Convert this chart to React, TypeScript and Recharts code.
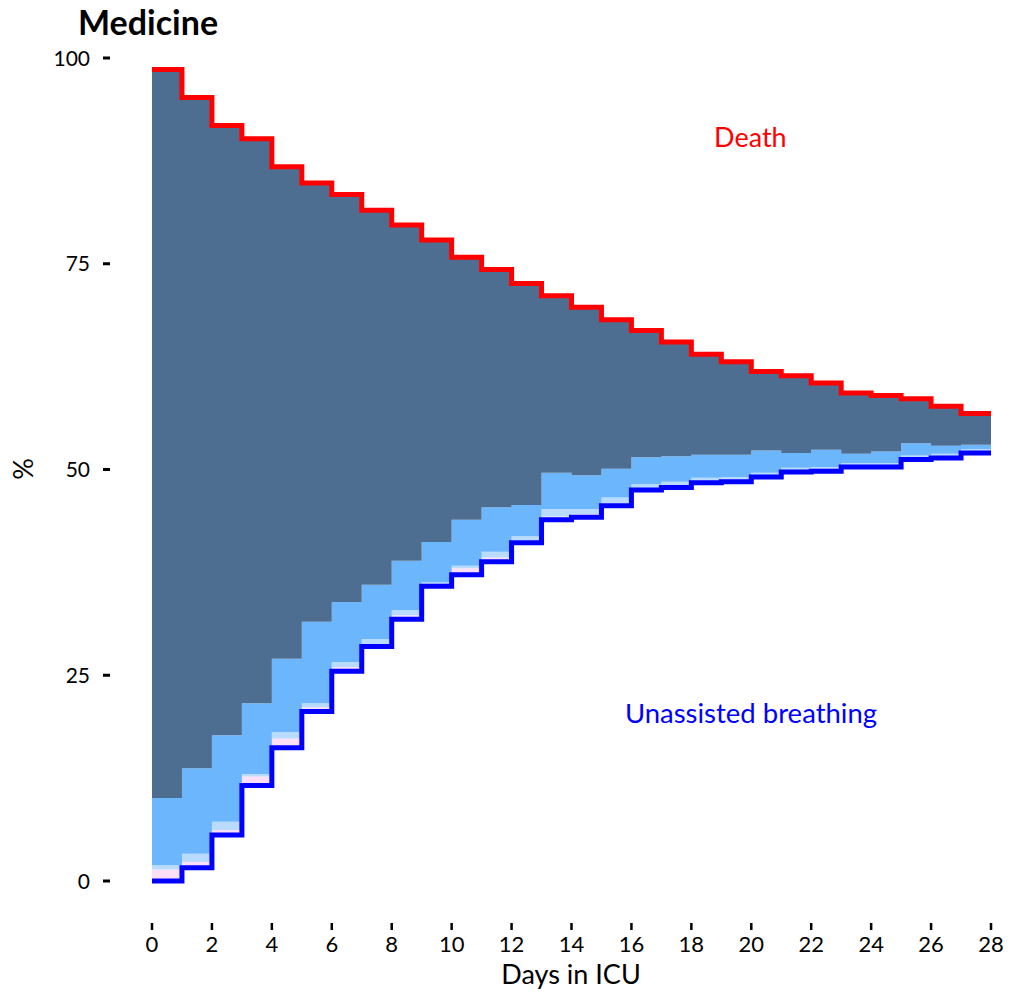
import React from 'react';
import { ComposedChart, Area, Line, XAxis, YAxis, ReferenceDot } from 'recharts';

// day intervals 0..27 (value holds from day i to day i+1)
const days = [0, 1, 2, 3, 4, 5, 6, 7, 8, 9, 10, 11, 12, 13, 14, 15, 16, 17, 18, 19, 20, 21, 22, 23, 24, 25, 26, 27];
const unassisted = [0, 1.6, 5.6, 11.6, 16.2, 20.6, 25.5, 28.5, 31.8, 35.8, 37.2, 38.8, 41.1, 43.9, 44.2, 45.6, 47.5, 47.8, 48.4, 48.5, 49.1, 49.7, 49.8, 50.3, 50.3, 51.2, 51.4, 52.0];
const pinkTop = [1.4, 2.3, 6.2, 12.7, 17.3, 21.1, 26.0, 28.8, 32.3, 36.1, 38.0, 39.3, 41.4, 44.3, 44.6, 45.9, 47.7, 48.0, 48.6, 48.7, 49.3, 49.9, 50.0, 50.5, 50.5, 51.4, 51.6, 52.2];
const paleTop = [1.9, 3.3, 7.2, 13.0, 18.1, 21.6, 26.6, 29.4, 32.9, 36.3, 38.3, 40.0, 41.9, 45.2, 45.2, 46.6, 48.2, 48.5, 49.0, 49.1, 49.6, 50.2, 50.3, 50.8, 50.8, 51.7, 51.9, 52.5];
const lightTop = [10.1, 13.7, 17.7, 21.6, 27.0, 31.5, 33.9, 36.0, 38.9, 41.2, 43.9, 45.4, 45.7, 49.6, 49.3, 50.1, 51.5, 51.6, 51.8, 51.8, 52.3, 52.0, 52.4, 51.9, 52.2, 53.2, 52.9, 53.0];
const aliveTop = [98.6, 95.2, 91.8, 90.2, 86.8, 84.8, 83.4, 81.5, 79.7, 77.9, 75.8, 74.3, 72.6, 71.1, 69.7, 68.2, 66.9, 65.5, 64.0, 63.1, 61.9, 61.4, 60.5, 59.3, 59.0, 58.6, 57.7, 56.8];

const xTicks = [0, 2, 4, 6, 8, 10, 12, 14, 16, 18, 20, 22, 24, 26, 28];
const yTicks = [0, 25, 50, 75, 100];

const FONT = 'Lato, "Open Sans", sans-serif';

// stepAfter needs a closing point at day 28
const data = [...days, 28].map((d, k) => {
  const i = Math.min(k, days.length - 1);
  return {
    day: d,
    base: unassisted[i],
    pink: pinkTop[i] - unassisted[i],
    pale: paleTop[i] - pinkTop[i],
    light: lightTop[i] - paleTop[i],
    dark: aliveTop[i] - lightTop[i],
    alive: aliveTop[i],
    unassisted: unassisted[i],
  };
});

const XTick = (props: any) => {
  const { x, y, payload } = props;
  return (
    <g>
      <line x1={x} x2={x} y1={y + 42} y2={y + 49} stroke="#000" strokeWidth={2.5} />
      <text x={x} y={y + 71} textAnchor="middle" fontSize={22} fontFamily={FONT} fill="#000">
        {payload.value}
      </text>
    </g>
  );
};

const YTick = (props: any) => {
  const { x, y, payload } = props;
  return (
    <g>
      <line x1={x - 49} x2={x - 42} y1={y} y2={y} stroke="#000" strokeWidth={3} />
      <text x={x - 62} y={y + 7.5} textAnchor="end" fontSize={21} fontFamily={FONT} fill="#000">
        {payload.value}
      </text>
    </g>
  );
};

export default function App() {
  return (
    <div style={{ position: 'absolute', left: 0, top: 0, width: 1011, height: 994, background: '#fff', fontFamily: FONT }}>
      <ComposedChart width={1011} height={994} data={data} margin={{ top: 58, right: 20, bottom: 13, left: 0 }}>
        <XAxis
          dataKey="day"
          type="number"
          domain={[0, 28]}
          ticks={xTicks}
          axisLine={false}
          tickLine={false}
          tickSize={0}
          tickMargin={0}
          height={100}
          tick={<XTick />}
          interval={0}
        />
        <YAxis
          type="number"
          domain={[0, 100]}
          ticks={yTicks}
          axisLine={false}
          tickLine={false}
          tickSize={0}
          tickMargin={0}
          width={152}
          tick={<YTick />}
          interval={0}
        />
        <Area type="stepAfter" dataKey="base" stackId="s" stroke="none" fill="#fff" fillOpacity={0} isAnimationActive={false} />
        <Area type="stepAfter" dataKey="pink" stackId="s" stroke="none" fill="#fde0f7" fillOpacity={1} isAnimationActive={false} />
        <Area type="stepAfter" dataKey="pale" stackId="s" stroke="none" fill="#b9dbfd" fillOpacity={1} isAnimationActive={false} />
        <Area type="stepAfter" dataKey="light" stackId="s" stroke="none" fill="#6cb6fd" fillOpacity={1} isAnimationActive={false} />
        <Area type="stepAfter" dataKey="dark" stackId="s" stroke="none" fill="#4e6e91" fillOpacity={1} isAnimationActive={false} />
        <Line type="stepAfter" dataKey="alive" stroke="#ff0000" strokeWidth={5} dot={false} isAnimationActive={false} />
        <Line type="stepAfter" dataKey="unassisted" stroke="#0000ff" strokeWidth={5} dot={false} isAnimationActive={false} />
        <ReferenceDot x={19.97} y={90.3} r={0} stroke="none" fill="none"
          label={{ value: 'Death', position: 'center', fill: '#ff0000', fontSize: 27, fontFamily: FONT }} />
        <ReferenceDot x={19.99} y={20.4} r={0} stroke="none" fill="none"
          label={{ value: 'Unassisted breathing', position: 'center', fill: '#0000ff', fontSize: 27.5, fontFamily: FONT }} />
      </ComposedChart>
      <svg width={1011} height={994} style={{ position: 'absolute', left: 0, top: 0, pointerEvents: 'none' }}>
        <text x={78} y={35} fontSize={34} fontWeight="bold" fontFamily={FONT} fill="#000">Medicine</text>
        <text x={571} y={984} textAnchor="middle" fontSize={27} fontFamily={FONT} fill="#000">Days in ICU</text>
        <text x={33} y={469} textAnchor="middle" fontSize={27} fontFamily={FONT} fill="#000" transform="rotate(-90 33 469)">%</text>
      </svg>
    </div>
  );
}
